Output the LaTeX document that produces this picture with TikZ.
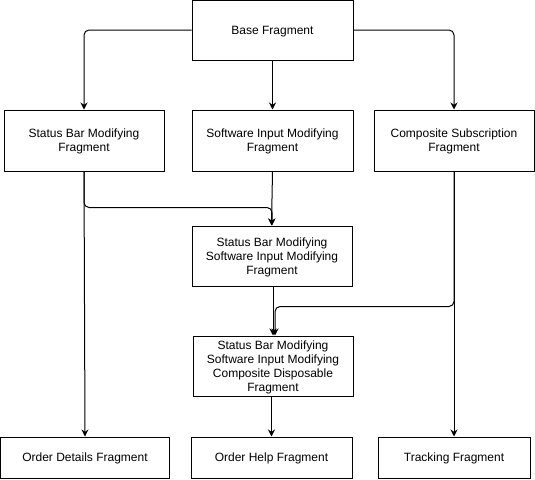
\documentclass[tikz,border=0pt]{standalone}
\usepackage{fontspec}
\setmainfont{Liberation Sans}
\usetikzlibrary{arrows.meta}

\begin{document}
\begin{tikzpicture}[x=1pt,y=-1pt,
    frag/.style={draw,line width=1pt,align=center,inner sep=2pt,text depth=-4pt,
      font=\fontsize{12}{14}\selectfont,minimum height=60pt,minimum width=160pt},
    leaf/.style={frag,minimum height=41pt},
    link/.style={line width=1pt,rounded corners=5pt,-{Stealth[length=7pt,width=7pt]}}]
  \useasboundingbox (0,0) rectangle (535,479);
  \node[frag,minimum width=161pt] (base) at (272.5,30) {Base Fragment};
  \node[frag,minimum height=61pt] (sbm) at (84,140.5) {Status Bar Modifying\\Fragment};
  \node[frag,minimum height=61pt,minimum width=161pt] (sim) at (272.5,140.5) {Software Input Modifying\\Fragment};
  \node[frag,minimum height=61pt] (csub) at (454,140.5) {Composite Subscription\\Fragment};
  \node[frag] (sbsim) at (272,256) {Status Bar Modifying\\Software Input Modifying\\Fragment};
  \node[frag] (sbsimcd) at (273,366) {Status Bar Modifying\\Software Input Modifying\\Composite Disposable\\Fragment};
  \node[leaf,minimum width=169pt] (odet) at (85,457.5) {Order Details Fragment};
  \node[leaf,minimum width=161pt] (ohelp) at (271.5,457.5) {Order Help Fragment};
  \node[leaf,minimum width=152pt] (track) at (454,457.5) {Tracking Fragment};
  % from the base
  \draw[link] (base.west) -| (sbm.north);
  \draw[link] (base.south) -- (sim.north);
  \draw[link] (base.east) -| (csub.north);
  % second row
  \draw[link] (sbm.south) -- ++(0,36) -| (sbsim.north);
  \draw[link] (sbm.south) -- (odet.north);
  \draw[link] (sim.south) -- ([xshift=-0.5pt]sbsim.north);
  \draw[link] (csub.south) -- ++(0,135) -| ([xshift=2pt]sbsimcd.north);
  \draw[link] (csub.south) -- (track.north);
  % lower boxes
  \draw[link] (sbsim.south -| sbsimcd.north) -- (sbsimcd.north);
  \draw[link] (sbsimcd.south -| ohelp.north) -- (ohelp.north);
\end{tikzpicture}
\end{document}
